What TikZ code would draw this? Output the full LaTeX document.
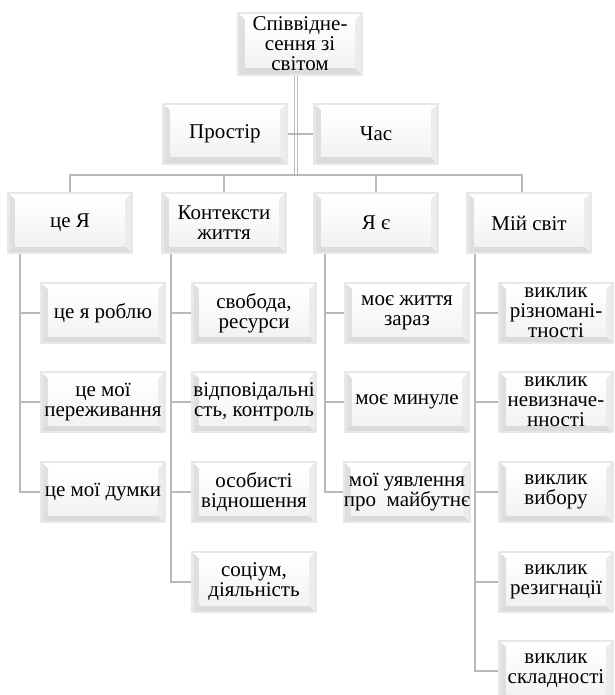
\documentclass[tikz,border=0pt]{standalone}
\usepackage{fontspec}
\setmainfont{Liberation Serif}
\newfontfamily\boxfont{Liberation Serif}
\usetikzlibrary{calc}
\tikzset{
  bevelbox/.style={rectangle, draw=gray!18, line width=2.5pt, fill=gray!5,
    minimum width=123pt, minimum height=60pt, inner sep=0pt, align=center,
    font=\boxfont\fontsize{21}{20}\selectfont,
    path picture={
      \path (path picture bounding box.south west) coordinate (pa)
            (path picture bounding box.north east) coordinate (pb);
      \fill[white] (pa|-pb) -- (pb) -- ($(pb)+(-7pt,-7pt)$) -- ($(pa|-pb)+(7pt,-7pt)$) -- cycle;
      \fill[gray!25] (pa|-pb) -- ($(pa|-pb)+(7pt,-7pt)$) -- ($(pa)+(7pt,7pt)$) -- (pa) -- cycle;
      \fill[gray!28] (pa) -- ($(pa)+(7pt,7pt)$) -- ($(pb|-pa)+(-7pt,7pt)$) -- (pb|-pa) -- cycle;
      \fill[gray!15] (pb|-pa) -- ($(pb|-pa)+(-7pt,7pt)$) -- ($(pb)+(-7pt,-7pt)$) -- (pb) -- cycle;
      \shade[top color=white, bottom color=gray!10] ($(pa)+(7pt,7pt)$) rectangle ($(pb)+(-7pt,-7pt)$);
    }},
  link/.style={draw=gray!55, line width=1.6pt},
  twolink/.style={draw=gray!55, line width=1.3pt, double=white, double distance=2pt}
}
\begin{document}
\begin{tikzpicture}[x=1pt,y=-1pt]
\useasboundingbox (0,0) rectangle (614,695);
\node[bevelbox, minimum width=124pt, minimum height=62pt] (svit) at (300,44) {Співвідне-\\сення зі\\світом};
\node[bevelbox] (prostir) at (225,134) {Простір};
\node[bevelbox] (chas) at (376,134) {Час};
\coordinate (bus) at (296,175);

\node[bevelbox] (ceya) at (70,223) {це Я};
\node[bevelbox] (kont) at (224,223) {Контексти\\життя};
\node[bevelbox] (yae) at (376,223) {Я є};
\node[bevelbox] (mij) at (529,223) {Мій світ};

\node[bevelbox] (roblyu) at (103,313) {це я роблю};
\node[bevelbox] (perezh) at (103,402) {це мої\\переживання};
\node[bevelbox] (dumky) at (103,492) {це мої думки};

\node[bevelbox] (svoboda) at (254,313) {свобода,\\ресурси};
\node[bevelbox] (vidpov) at (254,402) {відповідальні\\сть, контроль};
\node[bevelbox] (osob) at (254,492) {особисті\\відношення};
\node[bevelbox] (sotsium) at (254,582) {соціум,\\діяльність};

\node[bevelbox] (zaraz) at (407,313) {моє життя\\зараз};
\node[bevelbox] (mynule) at (407,402) {моє минуле};
\node[bevelbox] (mayb) at (407,492) {мої уявлення\\про~ майбутнє};

\node[bevelbox, minimum width=113pt] (riznom) at (556,313) {виклик\\різномані-\\тності};
\node[bevelbox, minimum width=113pt] (nevyz) at (556,402) {виклик\\невизначе-\\нності};
\node[bevelbox, minimum width=113pt] (vybor) at (556,492) {виклик\\вибору};
\node[bevelbox, minimum width=113pt] (rezyg) at (556,582) {виклик\\резигнації};
\node[bevelbox, minimum width=113pt] (sklad) at (556,671) {виклик\\складності};

\draw[twolink] (svit.south -| bus) -- (bus);
\draw[link] (prostir.east) -- (chas.west);
\draw[link] (ceya.north) |- (bus) -| ([xshift=-7pt]mij.north);
\draw[link] (kont.north) -- (kont.north |- bus);
\draw[link] (yae.north) -- (yae.north |- bus);

\foreach \child in {roblyu,perezh,dumky}
  \draw[link] ([xshift=13pt]ceya.south west) |- (\child.west);
\foreach \child in {svoboda,vidpov,osob,sotsium}
  \draw[link] ([xshift=10pt]kont.south west) |- (\child.west);
\foreach \child in {zaraz,mynule,mayb}
  \draw[link] ([xshift=12pt]yae.south west) |- (\child.west);
\foreach \child in {riznom,nevyz,vybor,rezyg,sklad}
  \draw[link] ([xshift=9pt]mij.south west) |- (\child.west);
\end{tikzpicture}
\end{document}
